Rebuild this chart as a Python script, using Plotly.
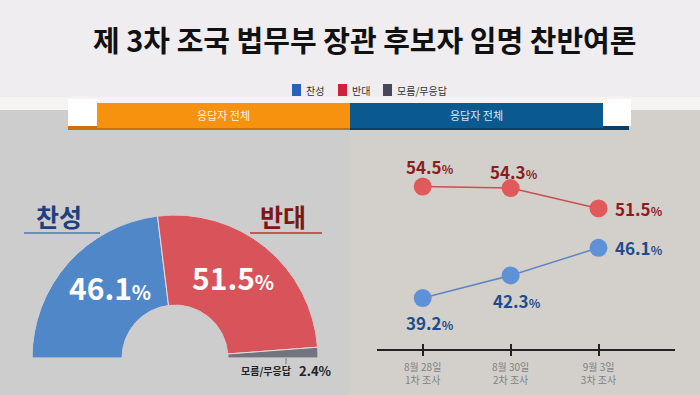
import plotly.graph_objects as go

# ---- data ----
title_text = "제 3차 조국 법무부 장관 후보자 임명 찬반여론"
legend_labels = ["찬성", "반대", "모름/무응답"]
current_labels = ["찬성", "반대", "모름/무응답"]
current_values = [46.1, 51.5, 2.4]
survey_dates = ["8월 28일<br>1차 조사", "8월 30일<br>2차 조사", "9월 3일<br>3차 조사"]
support_trend = [39.2, 42.3, 46.1]
oppose_trend = [54.5, 54.3, 51.5]
header_text = "응답자 전체"

W, H = 700, 395
FONT = "Noto Sans CJK KR"


def X(px):
    return px / W


def Y(py):
    return 1 - py / H


fig = go.Figure()

# ---- half donut (barpolar) ----
total = sum(current_values)
widths = [v / total * 180 for v in current_values]
centers = []
acc = 0
for w in widths:
    centers.append(acc + w / 2)
    acc += w
fig.add_trace(go.Barpolar(
    r=[1] * len(current_values), theta=centers, width=widths,
    marker=dict(color=["#4f87c9", "#d8535a", "#6f7480"],
                line=dict(color="#eadcdc", width=1)),
    hoverinfo="skip", showlegend=False, subplot="polar",
))

# ---- trend lines ----
fig.add_trace(go.Scatter(
    x=survey_dates, y=oppose_trend, mode="lines+markers",
    line=dict(color="#c65150", width=1.5),
    marker=dict(size=18, color="#e05a5b"),
    hoverinfo="skip", showlegend=False,
))
fig.add_trace(go.Scatter(
    x=survey_dates, y=support_trend, mode="lines+markers",
    line=dict(color="#5f86c2", width=1.5),
    marker=dict(size=18, color="#5f91d6"),
    hoverinfo="skip", showlegend=False,
))
# invisible trace to host the upper tick marks axis
fig.add_trace(go.Scatter(
    x=survey_dates, y=[None] * 3, xaxis="x2", yaxis="y",
    mode="markers", hoverinfo="skip", showlegend=False,
))

shapes = []
# backgrounds
shapes.append(dict(type="rect", xref="paper", yref="paper", x0=0, x1=1, y0=Y(110), y1=Y(97),
                   fillcolor="#f6f4f3", line=dict(width=0), layer="below"))
shapes.append(dict(type="rect", xref="paper", yref="paper", x0=0, x1=X(350), y0=0, y1=Y(110),
                   fillcolor="#cdcdcd", line=dict(width=0), layer="below"))
shapes.append(dict(type="rect", xref="paper", yref="paper", x0=X(350), x1=1, y0=0, y1=Y(110),
                   fillcolor="#d3d0cc", line=dict(width=0), layer="below"))
# header bar
shapes.append(dict(type="rect", xref="paper", yref="paper", x0=X(68), x1=X(350), y0=Y(130), y1=Y(126),
                   fillcolor="#c8720e", line=dict(width=0), layer="below"))
shapes.append(dict(type="rect", xref="paper", yref="paper", x0=X(350), x1=X(629), y0=Y(130), y1=Y(126),
                   fillcolor="#0d3f66", line=dict(width=0), layer="below"))
shapes.append(dict(type="rect", xref="paper", yref="paper", x0=X(68), x1=X(97), y0=Y(126), y1=Y(99),
                   fillcolor="#ffffff", line=dict(width=0), layer="below"))
shapes.append(dict(type="rect", xref="paper", yref="paper", x0=X(603), x1=X(631), y0=Y(126), y1=Y(99),
                   fillcolor="#ffffff", line=dict(width=0), layer="below"))
shapes.append(dict(type="rect", xref="paper", yref="paper", x0=X(97), x1=X(350), y0=Y(128), y1=Y(103),
                   fillcolor="#f7920f", line=dict(width=0), layer="below"))
shapes.append(dict(type="rect", xref="paper", yref="paper", x0=X(350), x1=X(603), y0=Y(128), y1=Y(103),
                   fillcolor="#0b5a8f", line=dict(width=0), layer="below"))
# legend squares
leg_colors = ["#2663b8", "#cf213a", "#47475a"]
leg_x = [292, 338, 383]
for c, x0 in zip(leg_colors, leg_x):
    shapes.append(dict(type="rect", xref="paper", yref="paper", x0=X(x0), x1=X(x0 + 9),
                       y0=Y(96), y1=Y(84), fillcolor=c, line=dict(width=0)))
# underlines for 찬성 / 반대
shapes.append(dict(type="line", xref="paper", yref="paper", x0=X(24), x1=X(100), y0=Y(233), y1=Y(233),
                   line=dict(color="#6d8cbf", width=2)))
shapes.append(dict(type="line", xref="paper", yref="paper", x0=X(250), x1=X(322), y0=Y(233), y1=Y(233),
                   line=dict(color="#c45858", width=2)))
# small leader for 모름/무응답
shapes.append(dict(type="line", xref="paper", yref="paper", x0=X(286), x1=X(286), y0=Y(358), y1=Y(364),
                   line=dict(color="#777777", width=1)))

annotations = []


def ann(text, x, y, size, color, xanchor="center"):
    annotations.append(dict(text=text, x=X(x), y=Y(y), xref="paper", yref="paper",
                            xanchor=xanchor, yanchor="middle", showarrow=False,
                            font=dict(family=FONT, size=size, color=color)))


ann("<b>" + title_text + "</b>", 364, 39, 29, "#111111")
leg_tx = [304, 350, 395]
for lab, x0 in zip(legend_labels, leg_tx):
    ann(lab, x0, 90, 10, "#333333", xanchor="left")
ann(header_text, 223, 115, 11, "#fdf1e2")
ann(header_text, 476, 115, 11, "#dce8f2")
# left chart headings
ann("<b>" + current_labels[0] + "</b>", 59, 216, 25, "#1f3f7e")
ann("<b>" + current_labels[1] + "</b>", 283, 216, 25, "#7a1818")


def pct(v, small):
    return "<b>%s<span style='font-size:%dpx'>%%</span></b>" % (v, small)


ann(pct(current_values[0], 20), 110, 287, 30, "#ffffff")
ann(pct(current_values[1], 20), 233, 277, 30, "#ffffff")
ann("<b>" + current_labels[2] + "</b>", 266, 370, 10, "#222222")
ann("<b>%s%%</b>" % current_values[2], 315, 370, 13, "#222222")

# trend labels (data coordinates)
red_shift = [(7, 20, "center"), (3, 17, "center"), (14, 0, "left")]
blue_shift = [(7, -24, "center"), (6, -25, "center"), (14, 0, "left")]
for vals, shifts, color in ((oppose_trend, red_shift, "#8e1b1b"), (support_trend, blue_shift, "#1f4c8b")):
    for i, v in enumerate(vals):
        dx, dy, xa = shifts[i]
        annotations.append(dict(text=pct(v, 12), x=survey_dates[i], y=v, xref="x", yref="y",
                                xanchor=xa, yanchor="middle", xshift=dx, yshift=dy, showarrow=False,
                                font=dict(family=FONT, size=17, color=color)))

fig.update_layout(
    width=W, height=H, margin=dict(l=0, r=0, t=0, b=0),
    paper_bgcolor="#efedf0", plot_bgcolor="rgba(0,0,0,0)",
    font=dict(family=FONT),
    showlegend=False,
    shapes=shapes, annotations=annotations,
    polar=dict(
        domain=dict(x=[X(32), X(318)], y=[Y(358), Y(215)]),
        sector=[0, 180], hole=0.37, bgcolor="rgba(0,0,0,0)",
        radialaxis=dict(visible=False, range=[0, 1]),
        angularaxis=dict(visible=False, rotation=180, direction="clockwise"),
    ),
    xaxis=dict(
        domain=[X(377), X(675)], range=[-0.52, 2.87], type="category",
        showline=True, linecolor="#222222", linewidth=2, showgrid=False, zeroline=False,
        ticks="outside", ticklen=5, tickwidth=1.5, tickcolor="#222222",
        tickfont=dict(family=FONT, size=10, color="#808080"),
        ticklabelstandoff=3,
        anchor="y", fixedrange=True,
    ),
    xaxis2=dict(
        domain=[X(377), X(675)], range=[-0.52, 2.87], type="category",
        overlaying="x", anchor="y", side="bottom",
        showline=False, showgrid=False, zeroline=False, showticklabels=False,
        ticks="inside", ticklen=5, tickwidth=1.5, tickcolor="#222222",
        categoryorder="array", categoryarray=survey_dates,
    ),
    yaxis=dict(
        domain=[Y(349), Y(140)], range=[32.2, 60.9], visible=False, fixedrange=True,
    ),
)

fig.write_html("out.html", config={"displayModeBar": False},
               post_script="document.body.style.margin='0';")
